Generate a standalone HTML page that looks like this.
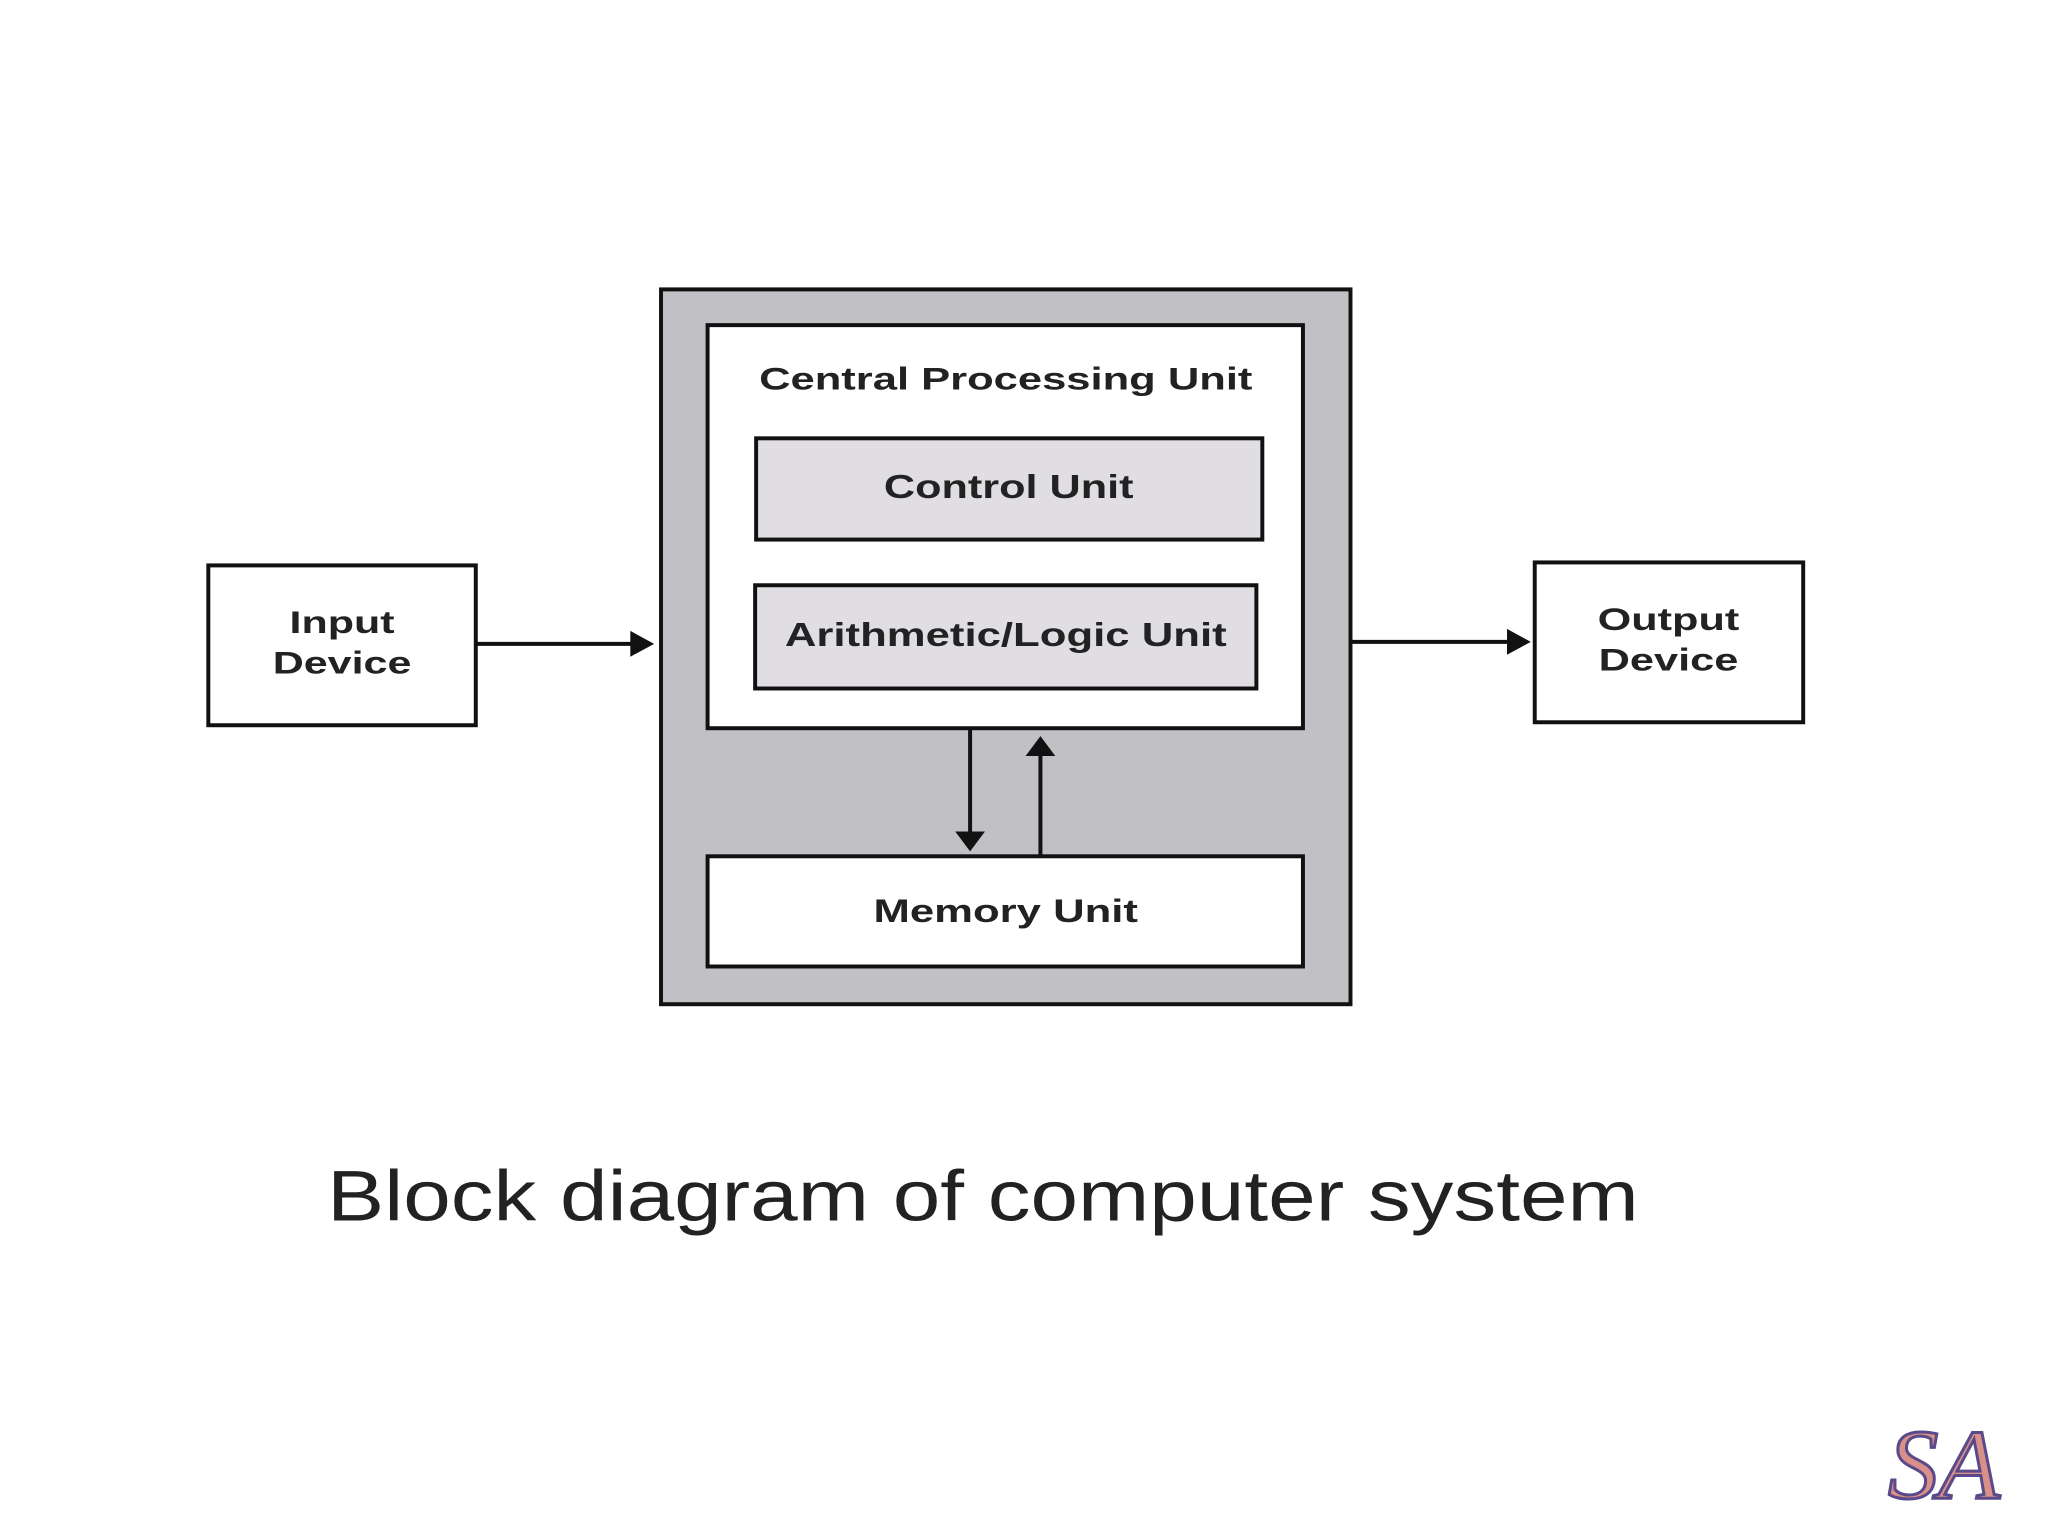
<!DOCTYPE html>
<html><head><meta charset="utf-8"><style>
html,body{margin:0;padding:0;background:#fff;}
svg{display:block;}
</style></head><body>
<svg width="2048" height="1536" viewBox="0 0 2048 1536" xmlns="http://www.w3.org/2000/svg">
<rect width="2048" height="1536" fill="#fff"/>
<g transform="translate(0.3,-0.5) scale(0.9906,0.9928)">
<g stroke="#111" stroke-width="4">
<rect x="667" y="292" width="696" height="720" fill="#c1c0c5"/>
<rect x="714" y="328" width="601" height="406" fill="#fff"/>
<rect x="763" y="442" width="511" height="102" fill="#e1dee3"/>
<rect x="762" y="590" width="506" height="104" fill="#e1dee3"/>
<rect x="714" y="863" width="601" height="111" fill="#fff"/>
<rect x="210" y="570" width="270" height="161" fill="#fff"/>
<rect x="1549" y="567" width="271" height="161" fill="#fff"/>
<line x1="480" y1="649" x2="640" y2="649"/>
<line x1="1363" y1="647" x2="1525" y2="647"/>
<line x1="979" y1="735" x2="979" y2="840"/>
<line x1="1050" y1="863" x2="1050" y2="760"/>
</g>
<g fill="#111">
<polygon points="636,636 660,649 636,662"/>
<polygon points="1521,634 1545,647 1521,660"/>
<polygon points="964,838 994,838 979,858"/>
<polygon points="1035,762 1065,762 1050,742"/>
</g>
<g font-family="Liberation Sans, sans-serif" font-weight="bold" fill="#222" text-anchor="middle">
<text x="1015" y="393" font-size="32" textLength="498" lengthAdjust="spacingAndGlyphs">Central Processing Unit</text>
<text x="1018" y="502" font-size="34" textLength="252" lengthAdjust="spacingAndGlyphs">Control Unit</text>
<text x="1015" y="651" font-size="34" textLength="446" lengthAdjust="spacingAndGlyphs">Arithmetic/Logic Unit</text>
<text x="1015" y="929" font-size="33" textLength="267" lengthAdjust="spacingAndGlyphs">Memory Unit</text>
<text x="345" y="638" font-size="32" textLength="106" lengthAdjust="spacingAndGlyphs">Input</text>
<text x="345" y="679" font-size="32" textLength="140" lengthAdjust="spacingAndGlyphs">Device</text>
<text x="1684" y="635" font-size="32" textLength="143" lengthAdjust="spacingAndGlyphs">Output</text>
<text x="1684" y="676" font-size="32" textLength="141" lengthAdjust="spacingAndGlyphs">Device</text>
</g>
<text x="330" y="1230" font-family="Liberation Sans, sans-serif" font-size="72" fill="#222" textLength="1324" lengthAdjust="spacingAndGlyphs">Block diagram of computer system</text>
</g>
<text x="1888" y="1498" font-family="Liberation Serif, serif" font-style="italic" font-size="100" fill="#d99088" stroke="#5a4a8a" stroke-width="3" textLength="112" lengthAdjust="spacingAndGlyphs">SA</text>
</svg>
</body></html>
